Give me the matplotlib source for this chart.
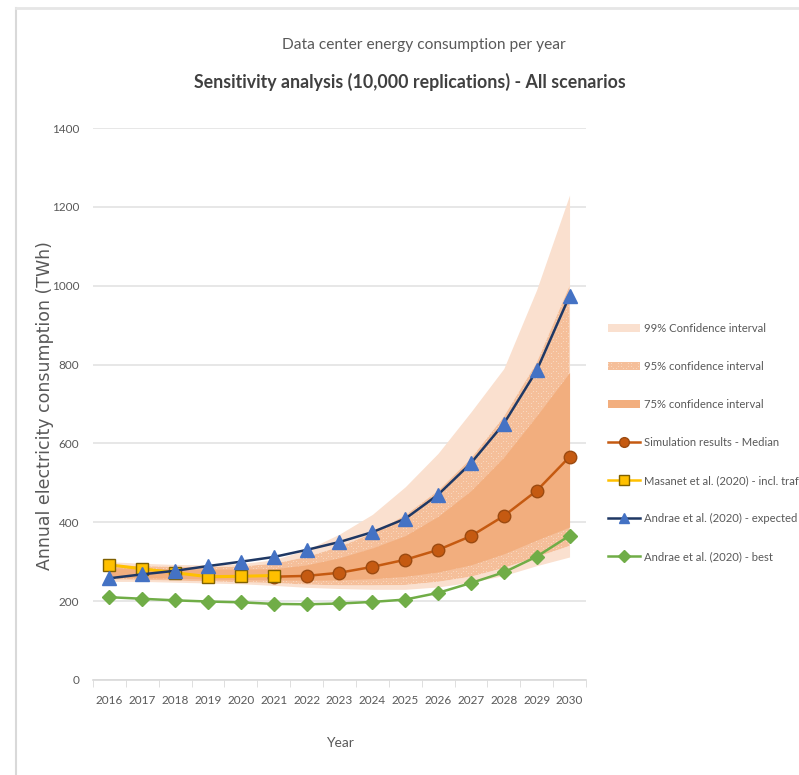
import numpy as np
import matplotlib
matplotlib.use("Agg")
import matplotlib.pyplot as plt
from matplotlib.patches import Patch
from matplotlib.lines import Line2D

plt.rcParams['font.family'] = ['Lato', 'DejaVu Sans']
plt.rcParams['hatch.linewidth'] = 1.2

years = list(range(2016, 2031))

# confidence bands (TWh)
ci99_low = [250, 250, 248, 246, 244, 240, 235, 232, 230, 230, 236, 248, 265, 290, 312]
ci99_high = [300, 296, 293, 292, 295, 305, 330, 370, 420, 490, 575, 680, 790, 990, 1230]
ci95_low = [255, 254, 252, 250, 248, 246, 242, 240, 240, 241, 249, 262, 284, 312, 340]
ci95_high = [292, 289, 287, 286, 288, 295, 312, 338, 372, 418, 480, 562, 668, 805, 1000]
ci75_low = [260, 259, 258, 256, 255, 254, 253, 254, 257, 263, 274, 292, 320, 355, 388]
ci75_high = [285, 283, 282, 281, 281, 282, 292, 310, 335, 366, 415, 480, 565, 670, 780]

median_years = list(range(2021, 2031))
median = [262, 264, 272, 287, 305, 330, 365, 416, 480, 566]

masanet_years = list(range(2016, 2022))
masanet = [292, 282, 272, 262, 263, 265]

andrae_expected = [258, 268, 277, 289, 300, 312, 330, 350, 375, 409, 470, 550, 650, 785, 974]
andrae_best = [210, 206, 202, 199, 197, 193, 192, 194, 198, 204, 221, 246, 273, 313, 366]

c99 = '#FAE0CF'
c95 = '#F5BF9A'
c75 = '#F2AE7E'
c_med = '#C55A11'
c_mas = '#FFC000'
c_and = '#1F3864'
c_and_m = '#4472C4'
c_best = '#70AD47'
grey = '#595959'

fig = plt.figure(figsize=(7.99, 7.75), dpi=100)
ax = fig.add_axes([0.1164, 0.1226, 0.6170, 0.7122])

ax.fill_between(years, ci99_low, ci99_high, color=c99, linewidth=0, zorder=1)
ax.fill_between(years, ci95_low, ci95_high, facecolor='white', edgecolor=c95,
                hatch='x' * 10, linewidth=0, zorder=2)
ax.fill_between(years, ci75_low, ci75_high, color=c75, linewidth=0, zorder=3)

ax.plot(median_years, median, color=c_med, lw=1.8, marker='o', ms=9,
        mfc=c_med, mec='#9C4A10', zorder=5)
ax.plot(masanet_years, masanet, color=c_mas, lw=2.2, marker='s', ms=9,
        mfc=c_mas, mec='#7F6000', zorder=6)
ax.plot(years, andrae_expected, color=c_and, lw=1.8, marker='^', ms=9.5,
        mfc=c_and_m, mec=c_and_m, zorder=7)
ax.plot(years, andrae_best, color=c_best, lw=1.8, marker='D', ms=7,
        mfc=c_best, mec=c_best, zorder=7)

ax.set_xlim(2015.5, 2030.5)
ax.set_ylim(0, 1400)
ax.set_yticks(range(0, 1401, 200))
ax.set_xticks(years)
ax.set_xticks(np.arange(2015.5, 2031, 1), minor=True)
ax.tick_params(axis='x', which='major', length=0, pad=11, labelsize=8.5, labelcolor=grey)
ax.tick_params(axis='x', which='minor', length=5, color='#D9D9D9')
ax.tick_params(axis='y', length=0, pad=10, labelsize=8.5, labelcolor=grey)
ax.grid(axis='y', color='#E3E3E3', lw=1.2, zorder=0)
ax.set_axisbelow(True)
for s in ['top', 'right', 'left']:
    ax.spines[s].set_visible(False)
ax.spines['bottom'].set_color('#D9D9D9')
ax.spines['bottom'].set_linewidth(1.2)

ax.set_xlabel('Year', fontsize=10, color=grey, labelpad=22)
fig.text(0.056, 0.477, 'Annual electricity consumption (TWh)', rotation=90,
         ha='center', va='center', fontsize=12.5, color=grey, family='DejaVu Sans')

fig.text(0.53, 0.942, 'Data center energy consumption per year', ha='center',
         va='center', fontsize=11.2, color=grey)
fig.text(0.513, 0.894, 'Sensitivity analysis (10,000 replications) - All scenarios',
         ha='center', va='center', fontsize=12.8, color='#404040', weight='bold')

handles = [
    Patch(facecolor=c99, edgecolor='none'),
    Patch(facecolor='white', edgecolor=c95, hatch='x' * 10, linewidth=0),
    Patch(facecolor=c75, edgecolor='none'),
    Line2D([], [], color=c_med, lw=1.8, marker='o', ms=7, mfc=c_med, mec='#9C4A10'),
    Line2D([], [], color=c_mas, lw=1.8, marker='s', ms=7, mfc=c_mas, mec='#7F6000'),
    Line2D([], [], color=c_and, lw=1.8, marker='^', ms=7, mfc=c_and_m, mec=c_and_m),
    Line2D([], [], color=c_best, lw=1.8, marker='D', ms=6, mfc=c_best, mec=c_best),
]
labels = ['99% Confidence interval', '95% confidence interval', '75% confidence interval',
          'Simulation results - Median', 'Masanet et al. (2020) - incl. traffic',
          'Andrae et al. (2020) - expected', 'Andrae et al. (2020) - best']
leg = fig.legend(handles, labels, loc='upper left', bbox_to_anchor=(0.755, 0.589),
                 frameon=False, fontsize=8.1, labelcolor=grey, handlelength=2.9,
                 handletextpad=0.35, labelspacing=2.4, borderaxespad=0)

# chart frame
fig.add_artist(Line2D([0.02, 0.02], [0, 0.99], color='#D9D9D9', lw=1.5,
                      transform=fig.transFigure))
fig.add_artist(Line2D([0.02, 1.0], [0.99, 0.99], color='#E6E6E6', lw=2,
                      transform=fig.transFigure))

fig.savefig('out.png', dpi=100)
